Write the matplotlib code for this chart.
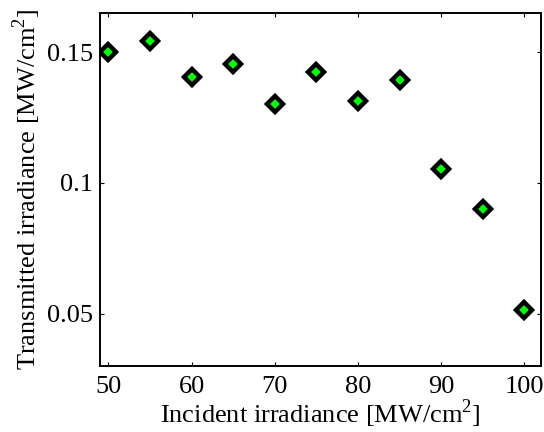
import matplotlib
matplotlib.use("Agg")
import matplotlib.pyplot as plt

incident = [50, 55, 60, 65, 70, 75, 80, 85, 90, 95, 100]
transmitted = [0.1502, 0.1542, 0.1404, 0.1456, 0.1301, 0.1425, 0.1314, 0.1393, 0.1052, 0.0899, 0.0513]
xticks = [50, 60, 70, 80, 90, 100]
yticks = [0.05, 0.1, 0.15]
yticklabels = ["0.05", "0.1", "0.15"]

plt.rcParams['font.family'] = ['Liberation Serif', 'DejaVu Serif']
plt.rcParams['mathtext.fontset'] = 'custom'
plt.rcParams['mathtext.rm'] = 'Liberation Serif'
fig = plt.figure(figsize=(5.44, 4.32), dpi=100)
ax = fig.add_axes([100/544, 1-366/432, 441/544, 353/432])
ax.plot(incident, transmitted, linestyle='none', marker='D', markersize=8,
        markerfacecolor='#00ff00', markeredgecolor='black', markeredgewidth=3.2)
ax.set_xlim(49, 102)
ax.set_ylim(0.03, 0.165)
ax.set_xticks(xticks)
ax.set_yticks(yticks)
ax.set_yticklabels(yticklabels)
ax.tick_params(direction='in', top=True, right=True, labelsize=19, length=3, width=0.8)
ax.tick_params(axis='x', pad=7)
ax.tick_params(axis='y', pad=5)
for s in ax.spines.values():
    s.set_linewidth(1.4)
ax.set_xlabel('Incident irradiance [MW/cm$^\\mathrm{2}$]', fontsize=19, labelpad=0)
ax.set_ylabel('Transmitted irradiance [MW/cm$^\\mathrm{2}$]', fontsize=19, labelpad=3)
fig.savefig('out.png', dpi=100)
